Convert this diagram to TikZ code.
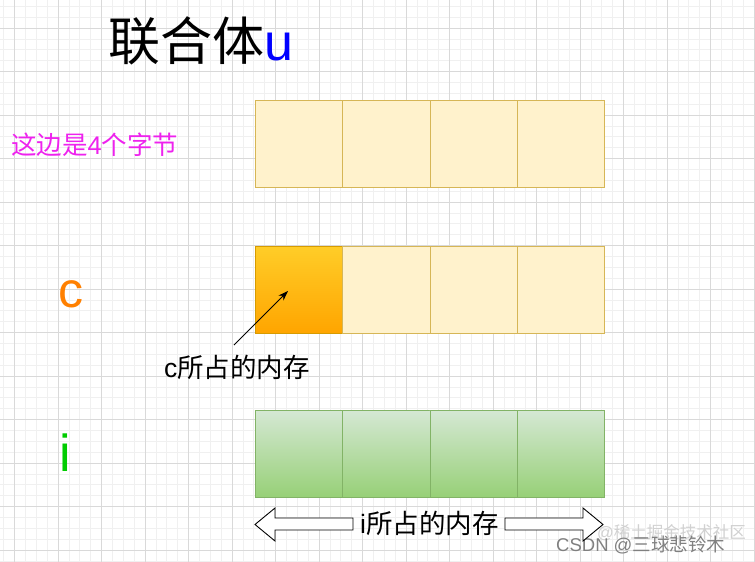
\documentclass[tikz,border=0pt]{standalone}
\usepackage{fontspec}
\setmainfont{Liberation Sans}
\newfontfamily\cjk{Noto Sans CJK SC}
\usetikzlibrary{arrows.meta}

\definecolor{yfill}{HTML}{FFF2CC}
\definecolor{ydraw}{HTML}{D6B656}
\definecolor{otop}{HTML}{FFCD28}
\definecolor{obot}{HTML}{FFA500}
\definecolor{odraw}{HTML}{D79B00}
\definecolor{gtop}{HTML}{D5E8D4}
\definecolor{gbot}{HTML}{97D077}
\definecolor{gdraw}{HTML}{82B366}
\definecolor{minorgrid}{HTML}{F0F0F0}
\definecolor{majorgrid}{HTML}{D9D9D9}
\definecolor{magtext}{HTML}{EE22EE}
\definecolor{ctext}{HTML}{FF8000}
\definecolor{itext}{HTML}{00CC00}
\definecolor{utext}{HTML}{0000FF}

\tikzset{
    cell/.style={rectangle, draw, line width=0.9pt, minimum width=87.3pt, minimum height=87pt, inner sep=0pt, outer sep=0pt},
    ycell/.style={cell, fill=yfill, draw=ydraw},
    ocell/.style={cell, top color=otop, bottom color=obot, draw=odraw},
    gcell/.style={cell, top color=gtop, bottom color=gbot, draw=gdraw},
    label/.style={inner sep=0pt, anchor=base west},
    blockarrow/.style={draw=black, line width=0.9pt, fill=white, line join=miter},
}

\begin{document}
\begin{tikzpicture}[x=1pt, y=-1pt]
    \useasboundingbox (0,0) rectangle (755,562);
    \fill[white] (0,0) rectangle (755,562);

    % background grid
    \foreach \k in {0,...,69} \draw[minorgrid, line width=0.6pt] ({3.625+10.875*\k},0) -- ({3.625+10.875*\k},562);
    \foreach \k in {0,...,51} \draw[minorgrid, line width=0.6pt] (0,{6.25+10.875*\k}) -- (755,{6.25+10.875*\k});
    \foreach \k in {0,...,17} \draw[majorgrid, line width=0.8pt] ({14.5+43.5*\k},0) -- ({14.5+43.5*\k},562);
    \foreach \k in {0,...,12} \draw[majorgrid, line width=0.8pt] (0,{28+43.5*\k}) -- (755,{28+43.5*\k});

    % the three rows of bytes
    \node[ycell] (a1) at (299,143.5) {};
    \node[ycell, xshift=87.3pt] (a2) at (a1) {};
    \node[ycell, xshift=87.3pt] (a3) at (a2) {};
    \node[ycell, xshift=87.3pt] (a4) at (a3) {};

    \node[ocell, yshift=-146pt] (c1) at (a1) {};
    \node[ycell, xshift=87.3pt] (c2) at (c1) {};
    \node[ycell, xshift=87.3pt] (c3) at (c2) {};
    \node[ycell, xshift=87.3pt] (c4) at (c3) {};

    \node[gcell, yshift=-164pt] (i1) at (c1) {};
    \node[gcell, xshift=87.3pt] (i2) at (i1) {};
    \node[gcell, xshift=87.3pt] (i3) at (i2) {};
    \node[gcell, xshift=87.3pt] (i4) at (i3) {};

    % texts
    \node[label] (title) at (108,60) {\fontsize{52}{58}\selectfont{\cjk 联合体}\textcolor{utext}{u}};
    \node[label, text=magtext] (bytes) at (11,154) {\fontsize{25.5}{30}\selectfont{\cjk 这边是}4{\cjk 个字节}};
    \node[label, text=ctext] (cname) at (58,307) {\fontsize{50}{56}\selectfont c};
    \node[label, text=itext] (iname) at (59.5,471) {\fontsize{52}{58}\selectfont i};
    \node[label] (cmemtext) at (164,377) {\fontsize{26.5}{31}\selectfont c{\cjk 所占的内存}};
    \node[label] (imemtext) at (360,533) {\fontsize{26.5}{31}\selectfont i{\cjk 所占的内存}};

    \node[label, text=black!18] (mark1) at (597,538) {\fontsize{16.5}{20}\selectfont @{\cjk 稀土掘金技术社区}};
    \node[label, text=black!50] (mark2) at (556,551) {\fontsize{18.5}{22}\selectfont CSDN @{\cjk 三球悲铃木}};

    % pointer to the first byte
    \coordinate (ctail) at (234,345);
    \coordinate (chead) at (288,291);
    \draw[-{Stealth[length=10pt, width=7pt]}, line width=0.8pt] (ctail) -- (chead);

    % block arrows round the label of i
    \draw[blockarrow] (353,518) -- (275,518) -- (275,508) -- (255,524.5) -- (275,541) -- (275,530) -- (353,530) -- cycle;
    \draw[blockarrow] (505,518) -- (583,518) -- (583,508) -- (603,524.5) -- (583,541) -- (583,530) -- (505,530) -- cycle;
\end{tikzpicture}
\end{document}
